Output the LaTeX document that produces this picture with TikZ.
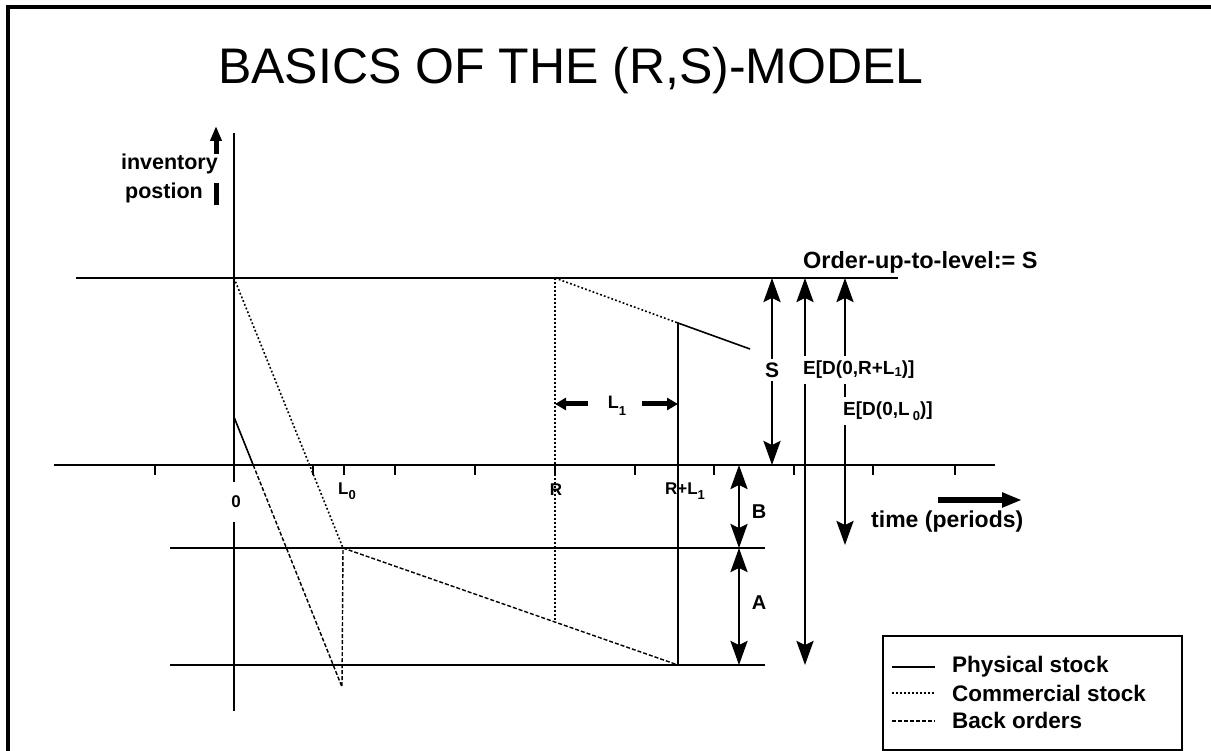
\documentclass[tikz,border=0pt]{standalone}
\usepackage{fontspec}
\setmainfont{Liberation Sans}
\usetikzlibrary{arrows.meta}
\newcommand\lsub[2][-0.5ex]{\raisebox{#1}{\fontsize{13}{13}\selectfont #2}}
\tikzset{
  axisline/.style={line width=2.2pt},
  levelline/.style={line width=1.8pt},
  physline/.style={line width=1.6pt},
  commline/.style={line width=1.6pt, dash pattern=on 1.8pt off 2.2pt},
  backline/.style={line width=1.4pt, dash pattern=on 4pt off 2pt},
  dimarrow/.style={line width=2.6pt, {Stealth[length=24pt,width=17pt,inset=4pt]}-{Stealth[length=24pt,width=17pt,inset=4pt]}},
  fatarrow/.style={line width=5pt, -{Triangle[length=11pt,width=12pt]}},
  tick/.style={line width=1.8pt},
  lab/.style={font=\bfseries\fontsize{#1}{#1}\selectfont, inner sep=1pt},
  lab/.default=18,
}
\begin{document}
\begin{tikzpicture}[x=1pt,y=-1pt]
\useasboundingbox (0,0) rectangle (1211,751);
% frame
\coordinate (fbl) at (8,751); \coordinate (ftl) at (8,7); \coordinate (ftr) at (1211,7);
\draw[line width=4pt] (fbl) -- (ftl) -- (ftr);
% title
\node (title) at (571,71) {\fontsize{50}{50}\selectfont BASICS OF THE (R,S)-MODEL};
% key coordinates
\coordinate (ytop) at (234,133); \coordinate (ybot) at (234,711);
\coordinate (xl) at (54,465); \coordinate (xr) at (995,465);
\coordinate (Sl) at (76,278); \coordinate (Sr) at (898,278);
\coordinate (Bl) at (170,548); \coordinate (Br) at (765,548);
\coordinate (Al) at (170,665); \coordinate (Ar) at (765,665);
% axes and levels
\draw[axisline] (ytop) -- (ybot);
\draw[axisline] (xl) -- (xr);
\draw[levelline] (Sl) -- (Sr);
\draw[physline] (Bl) -- (Br);
\draw[physline] (Al) -- (Ar);
% ticks
\foreach \tx/\nm in {155/a,234/b,313/c,344/d,395/e,475/f,555/g,635/h,678/i,714/j,794/k,873/l,955/m}{
  \coordinate (t\nm) at (\tx,465); \coordinate (u\nm) at (\tx,475);
  \draw[tick] (t\nm) -- (u\nm);
}
% tick labels
\node[lab=17, fill=white, minimum height=40pt] (l0) at (236,502) {0};
\node[lab=17] (lL0) at (347,491) {L\lsub{0}};
\node[lab=17] (lR) at (556,490) {R};
\node[lab=17] (lRL) at (685,491) {R+L\lsub{1}};
% curves
\coordinate (p0) at (234,417); \coordinate (pz) at (253.2,465);
\coordinate (pv) at (342,687); \coordinate (pL0) at (343,548);
\coordinate (pRL) at (678,665); \coordinate (pRLt) at (678,323);
\coordinate (pend) at (750,349);
\coordinate (c0) at (234,278); \coordinate (cR) at (555,278); \coordinate (cRb) at (555,622);
\draw[physline] (p0) -- (pz);
\draw[backline] (pz) -- (pv) -- (pL0);
\draw[backline] (pL0) -- (pRL);
\draw[physline] (pRL) -- (pRLt) -- (pend);
\draw[commline] (c0) -- (pL0);
\draw[commline] (cR) -- (pRLt);
\draw[commline] (cR) -- (cRb);
% L1 arrows
\coordinate (L1a) at (588,404); \coordinate (L1ae) at (555,404);
\coordinate (L1b) at (642,404); \coordinate (L1be) at (678,404);
\draw[fatarrow] (L1a) -- (L1ae);
\draw[fatarrow] (L1b) -- (L1be);
\node[lab=18] (lL1) at (617,406) {L\lsub[-0.7ex]{1}};
% dimension arrows
\coordinate (s1) at (772,278); \coordinate (s2) at (772,465);
\coordinate (b1) at (739,465); \coordinate (b2) at (739,548);
\coordinate (a1) at (739,548); \coordinate (a2) at (739,665);
\coordinate (e1) at (805,278); \coordinate (e2) at (805,665);
\coordinate (f1) at (845,278); \coordinate (f2) at (845,545);
\draw[dimarrow] (s1) -- (s2);
\draw[dimarrow] (b1) -- (b2);
\draw[dimarrow] (a1) -- (a2);
\draw[dimarrow] (e1) -- (e2);
\draw[dimarrow] (f1) -- (f2);
\node[lab=21, fill=white, inner ysep=4pt] (lS) at (772,370) {S};
\node[lab=20] (lB) at (759,512) {B};
\node[lab=20] (lA) at (759,603) {A};
\node[lab=19, fill=white, anchor=west, inner ysep=5pt] (lE1) at (802,370) {E[D(0,R+L\lsub[-0.2ex]{1})]};
\node[lab=19, fill=white, anchor=west, inner ysep=5pt] (lE2) at (842,411) {E[D(0,L\,\lsub{0})]};
% order-up-to level text
\node[lab=23.5, anchor=west] (ord) at (802,262) {Order-up-to-level:= S};
% time label and arrow
\node[lab=23, anchor=west] (time) at (870,522) {time (periods)};
\coordinate (ta) at (938,500); \coordinate (tb) at (1022,500);
\draw[line width=6pt, -{Triangle[length=20pt,width=14pt]}] (ta) -- (tb);
% inventory label
\node[lab=21.5, anchor=east] (inv1) at (219,164) {inventory};
\node[lab=21.5, anchor=east] (inv2) at (204,193) {postion};
\coordinate (ia) at (216,154); \coordinate (ib) at (216,126);
\draw[line width=5pt, -{Triangle[length=15pt,width=11pt]}] (ia) -- (ib);
\coordinate (ic) at (216,183); \coordinate (id) at (216,205);
\draw[line width=5pt] (ic) -- (id);
% legend
\node[draw, line width=2pt, minimum width=299pt, minimum height=114pt, anchor=north west, inner sep=0pt] (legend) at (882,635) {};
\coordinate (g1a) at (892,667); \coordinate (g1b) at (935,667);
\coordinate (g2a) at (892,693); \coordinate (g2b) at (935,693);
\coordinate (g3a) at (892,721); \coordinate (g3b) at (935,721);
\draw[physline] (g1a) -- (g1b);
\draw[commline] (g2a) -- (g2b);
\draw[backline] (g3a) -- (g3b);
\node[lab=22.5, anchor=west] (lg1) at (951,667) {Physical stock};
\node[lab=22.5, anchor=west] (lg2) at (951,693) {Commercial stock};
\node[lab=22.5, anchor=west] (lg3) at (951,720) {Back orders};
\end{tikzpicture}
\end{document}
